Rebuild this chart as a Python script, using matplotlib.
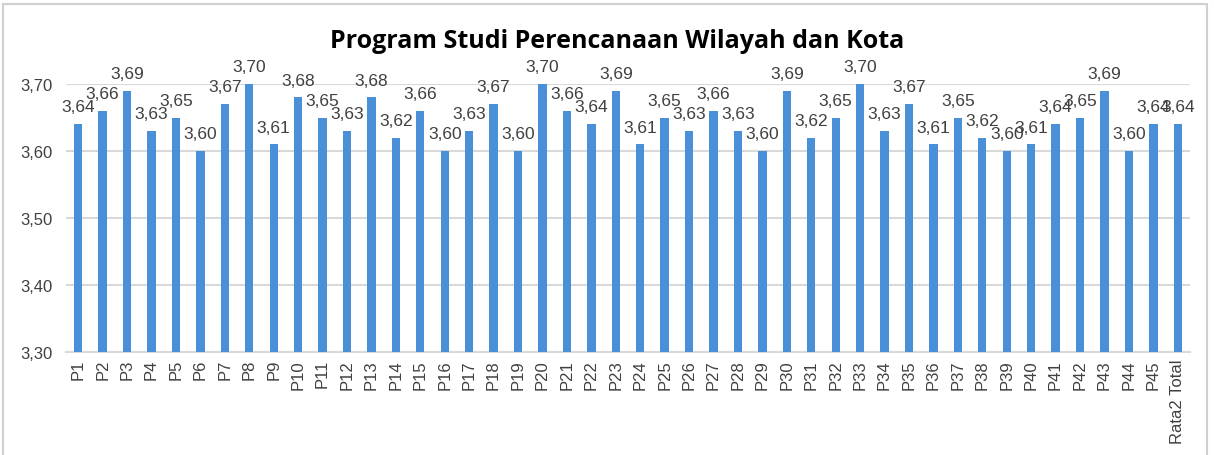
import matplotlib.pyplot as plt
from matplotlib.patches import Rectangle

# --- data ---
categories = [f"P{i}" for i in range(1, 46)] + ["Rata2 Total"]
values = [3.64, 3.66, 3.69, 3.63, 3.65, 3.60, 3.67, 3.70, 3.61, 3.68,
          3.65, 3.63, 3.68, 3.62, 3.66, 3.60, 3.63, 3.67, 3.60, 3.70,
          3.66, 3.64, 3.69, 3.61, 3.65, 3.63, 3.66, 3.63, 3.60, 3.69,
          3.62, 3.65, 3.70, 3.63, 3.67, 3.61, 3.65, 3.62, 3.60, 3.61,
          3.64, 3.65, 3.69, 3.60, 3.64, 3.64]
y_ticks = [3.30, 3.40, 3.50, 3.60, 3.70]
title = "Program Studi Perencanaan Wilayah dan Kota"

bar_color = '#4a90d9'
grid_color = '#d9d9d9'
text_color = '#404040'

plt.rcParams['font.family'] = ['Liberation Sans', 'DejaVu Sans']

fig = plt.figure(figsize=(12.14, 4.56), dpi=100)
ax = fig.add_axes([66 / 1214, 1 - 353 / 456, (1190 - 66) / 1214, (353 - 85) / 456])

x = list(range(len(categories)))
ax.bar(x, values, width=0.34, color=bar_color, bottom=0, zorder=3)

# data labels above each bar
for xi, v in zip(x, values):
    ax.annotate(f"{v:.2f}".replace('.', ','), (xi, v), xytext=(0, 7),
                textcoords='offset points', ha='center', va='bottom',
                fontsize=12.5, color=text_color, annotation_clip=False)

ax.set_ylim(3.30, 3.70)
ax.set_xlim(-0.5, len(categories) - 0.5)
ax.set_yticks(y_ticks)
ax.set_yticklabels([f"{t:.2f}".replace('.', ',') for t in y_ticks])
ax.set_xticks(x)
ax.set_xticklabels(categories, rotation=90)
ax.tick_params(axis='both', length=0, labelsize=12, labelcolor=text_color)
ax.tick_params(axis='y', pad=10)
ax.tick_params(axis='x', pad=5)
ax.grid(axis='y', color=grid_color, linewidth=1.5, zorder=0)
for side in ['top', 'right', 'left']:
    ax.spines[side].set_visible(False)
ax.spines['bottom'].set_color(grid_color)
ax.spines['bottom'].set_linewidth(1.5)
ax.spines['bottom'].set_zorder(1)

fig.text(617 / 1214, 1 - 42 / 456, title, ha='center', va='center',
         fontsize=18, fontweight='bold', family=['Open Sans', 'DejaVu Sans'],
         color='black')

# chart border
fig.patches.append(Rectangle((3 / 1214, -0.05), 1204 / 1214, 1.05 - 5 / 456,
                             transform=fig.transFigure, fill=False,
                             edgecolor='#d0d0d0', linewidth=1.5))

fig.savefig('out.png', dpi=100)
